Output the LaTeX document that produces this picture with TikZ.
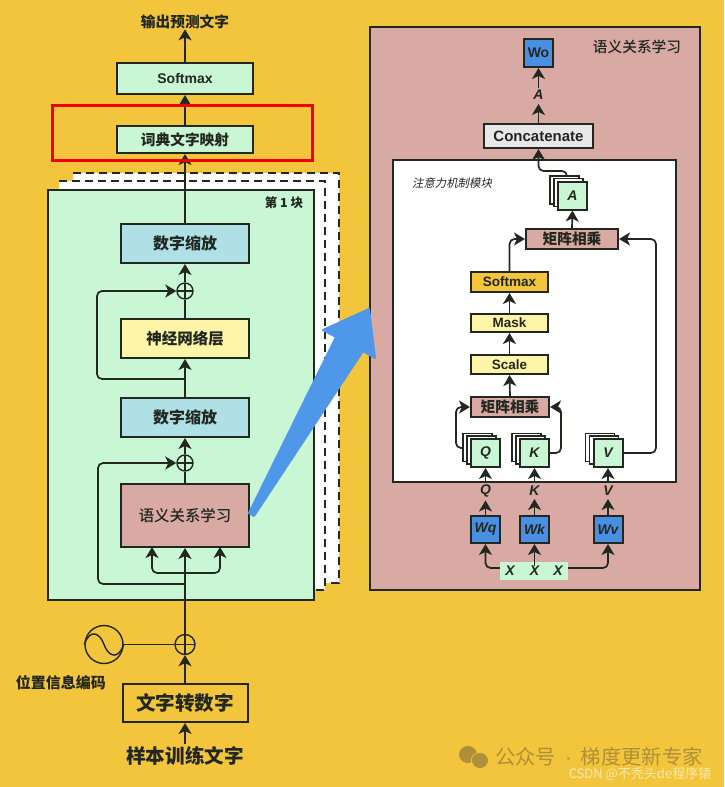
\documentclass[tikz,border=0pt]{standalone}
\usepackage{fontspec}
\setmainfont{Noto Sans CJK SC}
\newfontfamily\medfont{Noto Sans CJK SC Medium}
\newfontfamily\latinfont{Liberation Sans}
\newfontfamily\slantfont[FakeSlant=0.2]{Noto Sans CJK SC}
\usetikzlibrary{arrows.meta,calc}
\definecolor{bgyellow}{HTML}{F2C53D}
\definecolor{inkdark}{HTML}{222820}
\definecolor{mintgreen}{HTML}{C9F7D6}
\definecolor{scaleblue}{HTML}{AEE0E6}
\definecolor{paleyellow}{HTML}{FFF5A8}
\definecolor{dustypink}{HTML}{D9A9A3}
\definecolor{wordblue}{HTML}{4A90E2}
\definecolor{arrowblue}{HTML}{4F97E8}
\definecolor{lightgrey}{HTML}{E8E8E8}
\definecolor{markbrown}{HTML}{AE9038}
\definecolor{markpale}{HTML}{F7E9AE}
\newcommand{\fsize}[1]{\fontsize{#1}{#1}\selectfont}
\tikzset{
  blockbox/.style={draw=inkdark,line width=2pt,inner sep=0pt,align=center,text=inkdark},
  plusnode/.style={draw=inkdark,line width=1.4pt,circle,inner sep=0pt,minimum size=#1,
    path picture={\draw[inkdark,line width=1.4pt]
      (path picture bounding box.north) -- (path picture bounding box.south)
      (path picture bounding box.west) -- (path picture bounding box.east);}},
  flow/.style={draw=inkdark,line width=1.7pt,rounded corners=5pt,-{Stealth[length=11pt,width=13pt,inset=3pt]}},
  plainline/.style={draw=inkdark,line width=1.7pt,rounded corners=5pt},
  sheet/.style={fill=white,draw=none},
  sheetline/.style={inkdark,line width=2.3pt,dash pattern=on 8pt off 5pt},
  labeltext/.style={inner sep=0pt,text=inkdark,font=\bfseries\fsize{#1}},
  mathtext/.style={inner sep=0pt,text=inkdark,font=\latinfont\bfseries\itshape\fsize{14}},
}
% #2 name, #3 #4 centre, #5 #6 size
\newcommand{\namebox}[7][]{%
\node[blockbox,minimum width=#5pt,minimum height=#6pt,#1] (#2) at (#3,#4) {#7};
}
% stack of three sheets, the front one is named
\newcommand{\stackbox}[4]{%
\foreach \k in {8,4} {
\draw[draw=inkdark,line width=1.5pt,fill=white] ($(#2,#3)+(-14.5-\k,-14-0.7*\k)$) rectangle ++(29,28);
}
\node[blockbox,fill=mintgreen,minimum width=29pt,minimum height=28pt,font=\latinfont\bfseries\itshape\fsize{14}] (#1) at (#2,#3) {#4};
}
\begin{document}
\begin{tikzpicture}[x=1pt,y=-1pt]
\useasboundingbox (0,0) rectangle (724,787);
\fill[bgyellow] (0,0) rectangle (724,787);

% left column, the sheets behind the block
\fill[sheet] (73,173) rectangle (339,583);
\fill[sheet] (59,181) rectangle (325,590);
\draw[sheetline] (73,173) -- (339,173) -- (339,583) -- (325,583);
\draw[sheetline] (59,181) -- (325,181) -- (325,590) -- (314,590);

\namebox[fill=mintgreen]{blockOne}{181}{395}{266}{410}{}
\node[labeltext=12.5] (blockName) at (284,203) {第 1 块};

\namebox[fill=scaleblue,font=\bfseries\fsize{16}]{scaleTop}{185}{243.5}{128}{39}{数字缩放}
\namebox[fill=paleyellow,font=\bfseries\fsize{15.5}]{neuralLayer}{185}{338.5}{128}{39}{神经网络层}
\namebox[fill=scaleblue,font=\bfseries\fsize{16}]{scaleLow}{185}{417.5}{128}{39}{数字缩放}
\namebox[fill=dustypink,font=\medfont\fsize{15.4}]{semantic}{185}{515.5}{128}{63}{语义关系学习}
\namebox[fill=mintgreen,font=\bfseries\fsize{14.7}]{dictMap}{185}{139.5}{136}{27}{词典文字映射}
\namebox[fill=mintgreen,font=\latinfont\bfseries\fsize{14}]{softmaxOut}{185}{78.5}{136}{31}{Softmax}
\node[labeltext=14.7] (outText) at (185,22) {输出预测文字};

\node[plusnode=16pt] (plusTop) at (185,291) {};
\node[plusnode=16pt] (plusLow) at (185,463) {};
\node[plusnode=20pt] (plusPos) at (185,644.5) {};
\node[draw=inkdark,line width=1.4pt,circle,minimum size=38pt,inner sep=0pt] (posWave) at (104,644.5) {};
\namebox[font=\bfseries\fsize{19.6}]{wordToNum}{185}{703}{125}{38}{文字转数字}
\node[labeltext=15] (posText) at (61,683) {位置信息编码};
\node[labeltext=19.6] (inText) at (185,756) {样本训练文字};

\coordinate (loopTop) at (185,379);
\coordinate (loopLow) at (185,584);
\coordinate (forkMid) at (185,573);
\coordinate (forkLeft) at (152,547);
\coordinate (forkRight) at (220,547);
\coordinate (inStart) at (185,744);

\draw[flow] (softmaxOut.north) -- (outText.south);
\draw[flow] (dictMap.north) -- (softmaxOut.south);
\draw[flow] (scaleTop.north) -- (dictMap.south);
\draw[flow] (plusTop.north) -- (scaleTop.south);
\draw[plainline] (neuralLayer.north) -- (plusTop.south);
\draw[flow] (scaleLow.north) -- (neuralLayer.south);
\draw[flow] (plusLow.north) -- (scaleLow.south);
\draw[plainline] (semantic.north) -- (plusLow.south);
\draw[flow] (loopTop) -- (97,379) -- (97,291) -- (plusTop.west);
\draw[flow] (loopLow) -- (98,584) -- (98,463) -- (plusLow.west);
\draw[flow] (forkMid) -- (152,573) -- (forkLeft);
\draw[flow] (forkMid) -- (220,573) -- (forkRight);
\draw[flow] (plusPos.north) -- (semantic.south);
\draw[flow] (wordToNum.north) -- (plusPos.south);
\draw[flow] (inStart) -- (wordToNum.south);
\draw[plainline] (posWave.east) -- (plusPos.west);
\draw[inkdark,line width=1.4pt] (posWave.west) .. controls (90,628) and (100,633) .. (posWave.center) .. controls (108,656) and (118,661) .. (posWave.east);

% right panel
\namebox[fill=dustypink]{panel}{535}{308.5}{330}{563}{}
\node[inner sep=0pt,text=inkdark,font=\medfont\fsize{14.7}] (panelName) at (637,47) {语义关系学习};
\node[blockbox,fill=white,line width=1.5pt,minimum width=283pt,minimum height=322pt] (attention) at (534.5,321) {};
\node[inner sep=0pt,text=inkdark,font=\slantfont\fsize{11.4}] (attentionName) at (452,183) {注意力机制模块};

\namebox[fill=wordblue,font=\latinfont\bfseries\fsize{14}]{wordOut}{538.5}{53}{29}{28}{Wo}
\node[mathtext] (labelA) at (538.5,95) {A};
\namebox[fill=lightgrey,font=\latinfont\bfseries\fsize{15}]{concat}{538.5}{136}{109}{24}{Concatenate}
\stackbox{stackA}{572.5}{195.5}{A}
\namebox[fill=dustypink,font=\bfseries\fsize{14.7}]{matTop}{572}{239}{92}{20}{矩阵相乘}
\namebox[fill=bgyellow,font=\latinfont\bfseries\fsize{13.5}]{softmaxIn}{509.5}{282}{77}{20}{Softmax}
\namebox[fill=paleyellow,font=\latinfont\bfseries\fsize{13.5}]{maskBox}{509.5}{323}{77}{18}{Mask}
\namebox[fill=paleyellow,font=\latinfont\bfseries\fsize{13.5}]{scaleBox}{509.5}{364.5}{77}{19}{Scale}
\namebox[fill=dustypink,font=\bfseries\fsize{14.7}]{matLow}{510}{407}{78}{20}{矩阵相乘}

\stackbox{stackQ}{485.5}{453}{Q}
\stackbox{stackK}{534.5}{453}{K}
\stackbox{stackV}{608}{453}{V}
\node[mathtext] (labelQ) at (485.5,491) {Q};
\node[mathtext] (labelK) at (534.5,491) {K};
\node[mathtext] (labelV) at (608,491) {V};
\namebox[fill=wordblue,font=\latinfont\bfseries\itshape\fsize{14}]{wordQ}{485.5}{529.5}{29}{27}{Wq}
\namebox[fill=wordblue,font=\latinfont\bfseries\itshape\fsize{14}]{wordK}{534.5}{529.5}{29}{27}{Wk}
\namebox[fill=wordblue,font=\latinfont\bfseries\itshape\fsize{14}]{wordV}{608}{529.5}{29}{27}{Wv}
\node[fill=mintgreen,inner sep=0pt,minimum width=68pt,minimum height=18pt] (inputX) at (534,571) {};
\node[mathtext] (xOne) at (510,571) {X};
\node[mathtext] (xTwo) at (534.5,571) {X};
\node[mathtext] (xThree) at (558,571) {X};

\draw[flow,shorten <=2pt] (labelA.north) -- (wordOut.south);
\draw[flow,shorten >=4pt] (concat.north) -- (labelA.south);
\draw[flow] (567,176) -- (567,171) -- (538.5,171) -- (concat.south);
\draw[flow] (matTop.north) -- (stackA.south);
\draw[flow] (509.5,272) -- (509.5,239) -- (matTop.west);
\draw[flow] (stackV.east) -- (656,453) -- (656,239) -- (matTop.east);
\draw[flow] (maskBox.north) -- (softmaxIn.south);
\draw[flow] (scaleBox.north) -- (maskBox.south);
\draw[flow] (matLow.north) -- (scaleBox.south);
\draw[flow] (463,448) -- (456,448) -- (456,407) -- (matLow.west);
\draw[flow] (stackK.east) -- (561,453) -- (561,407) -- (matLow.east);
\draw[flow] (labelQ.south |- attention.south) -- (stackQ.south);
\draw[flow] (labelK.south |- attention.south) -- (stackK.south);
\draw[flow] (labelV.south |- attention.south) -- (stackV.south);
\draw[flow,shorten >=3pt] (wordQ.north) -- (labelQ.south);
\draw[flow,shorten >=3pt] (wordK.north) -- (labelK.south);
\draw[flow,shorten >=3pt] (wordV.north) -- (labelV.south);
\draw[flow] (inputX.west |- 0,568) -- (485.5,568) -- (wordQ.south);
\draw[flow] (xTwo.north) -- (wordK.south);
\draw[flow] (inputX.east |- 0,568) -- (608,568) -- (wordV.south);

% big arrow and red frame
\fill[arrowblue,draw=arrowblue,line width=2pt,line join=round] (249,513) -- (254,516) -- (363,351) -- (375,358) -- (369,309) -- (323,330) -- (336,337) -- cycle;
\draw[red!95!black,line width=3pt] (52,105) rectangle (312,160);

% watermark
\fill[markbrown] (468,754.5) ellipse (9pt and 8.5pt);
\draw[bgyellow,line width=.8pt] (480,760.5) ellipse (8.6pt and 8pt);
\fill[markbrown] (480,760.5) ellipse (8pt and 7.5pt);
\node[inner sep=0pt,anchor=west,text=markbrown,font=\fsize{20.3}] (markMain) at (495,756.5) {公众号{\latinfont\,\ ·\ \,}梯度更新专家};
\node[inner sep=0pt,text=markpale,font=\fsize{13}] (markSmall) at (640,774) {CSDN @不秃头de程序猿};
\end{tikzpicture}
\end{document}
